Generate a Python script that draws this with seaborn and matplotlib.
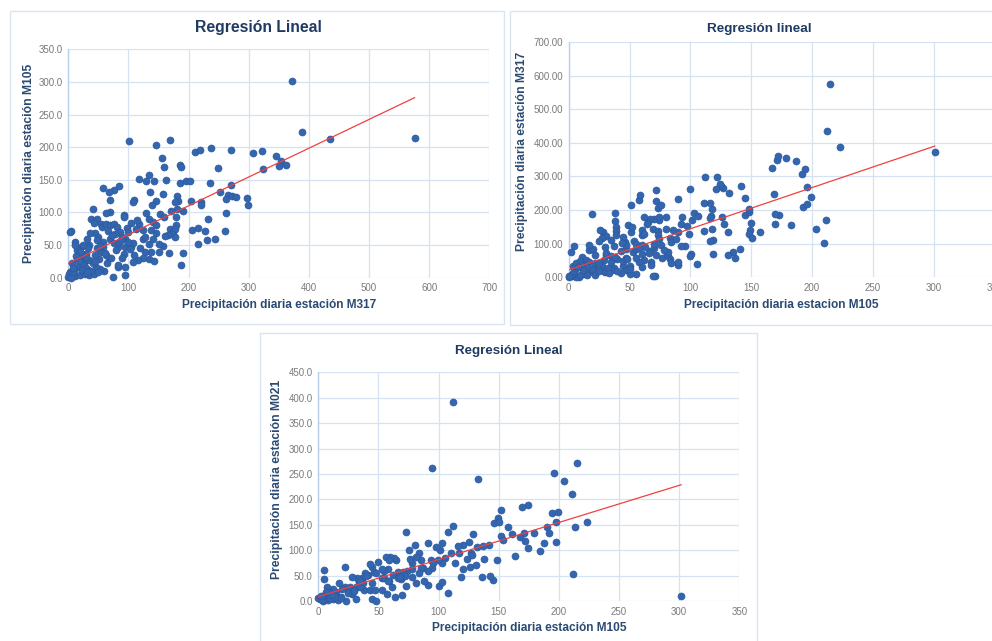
import matplotlib
matplotlib.use("Agg")
import matplotlib.pyplot as plt
import seaborn as sns
import numpy as np
import pandas as pd
from matplotlib.patches import Rectangle

# ---------------- data ----------------
# daily precipitation pairs (M317, M105)
m317 = [372, 389, 435, 576, 101, 169, 145, 156, 210, 219, 238, 270, 307, 322, 345, 354, 350, 362, 324, 249,
        159, 185, 187, 163, 142, 135, 130, 118, 186, 195, 202, 236, 271, 252, 266, 273, 279, 263, 297, 298,
        262, 260, 228, 206, 216, 233, 231, 244, 216, 204.5, 220, 221, 191, 180, 183, 177, 181, 179, 171, 158,
        145, 138.5, 136, 130, 135, 141, 145, 153, 159, 145, 138, 125, 118, 113, 169, 174, 179, 178, 173, 178,
        165, 160, 157, 167, 190, 188, 151, 137, 134, 127, 134, 142, 124, 116, 108, 105, 107, 105, 97, 92,
        93, 84, 76, 67.5, 69, 57, 70, 62, 41, 37.7, 47, 54, 43, 45, 56, 63, 70, 76, 81.5, 86,
        77, 69, 76, 83, 79, 92, 95, 95, 89, 82, 83, 95, 94, 74, 67.6, 71, 65, 60, 52.6, 46,
        51, 57.6, 50, 47, 35, 31.6, 33, 28.8, 21.6, 14, 10.5, 11, 5, 3, 15, 20, 26, 16, 9.4, 2,
        0.5, 4, 11, 19, 27, 35, 42, 49, 33, 24, 35, 41.6, 5.5, 8.3, 0, 4, 22.7, 29, 36, 110,
        108, 20, 30, 38, 55, 62, 45, 25, 18, 48, 58, 66, 85, 90, 100, 110, 120, 125, 140, 150,
        12, 7, 23, 31, 44, 53, 61, 72, 88, 99, 103, 114, 128]
m105 = [301, 223, 212.5, 214.6, 210, 211.5, 203, 183, 193, 196, 199, 196, 191.6, 194, 187, 179, 171, 172, 167, 168.6,
        169.6, 173, 169.6, 150, 148.7, 157, 148, 151, 144.6, 148, 148, 145, 142, 132, 127, 125, 124, 121, 122, 112,
        99.6, 71.5, 72, 73.6, 76, 90, 57.7, 58.8, 51.6, 117.5, 116, 111, 102.7, 125.7, 117, 116, 106, 93.5, 101.7, 127.7,
        118, 111, 131, 98.6, 90, 86, 80, 97.6, 92.5, 69, 73, 73, 83, 74, 74, 70, 80, 74, 67, 62,
        65, 64, 48.5, 38, 38, 19.4, 39, 39, 51, 39, 28, 25.5, 30.7, 27.6, 24.5, 46.5, 53.6, 84, 76, 96,
        92.5, 141, 135, 131, 119, 137, 100.6, 99.6, 105.8, 90, 90, 83, 84, 68, 77, 82, 81, 82, 78, 70.5,
        67, 60, 52.6, 47.5, 43, 37, 47.5, 60, 63, 17, 20, 17, 4, 1.5, 30.6, 30.6, 22, 10.7, 14, 17,
        29, 47.5, 62, 58, 50.6, 60, 45, 37, 47.5, 43, 55, 50, 71, 69.5, 29.6, 29, 22, 17, 11.8, 8.7,
        5.6, 2.5, 2.5, 4, 5.6, 3.6, 5.6, 9, 11.8, 19, 27, 22, 22, 9, 0.5, 0.2, 36, 32, 68, 119,
        116.5, 40, 15, 10, 40, 35, 35, 50, 25, 45, 55, 72, 55, 30, 55, 35, 45, 60, 60, 52,
        33, 15, 12, 8, 25, 48, 38, 66, 58, 70, 44, 88, 62]

# daily precipitation pairs (M105, M021)
m105_b = [112, 94.8, 132.5, 215, 196, 204, 211, 301.8, 212, 223, 213, 194.5, 199.5, 197.6, 190, 191.8, 197.6, 187.6, 184, 179.6,
          174, 169, 170.7, 168, 172, 174.6, 163.5, 160.7, 158, 152, 149, 146, 150, 152, 153.5, 148.8, 145, 143, 136, 141.6,
          137.7, 136.6, 131.6, 128.9, 125, 127, 128, 126, 131, 124, 120.5, 119, 120, 116, 117, 112, 107.5, 113.6, 110.5, 105,
          103, 101, 98, 102.5, 99.5, 94, 91, 94.8, 91.4, 91, 100, 103, 107.8, 88, 85, 86.7, 83.7, 80.6, 81, 78,
          75, 72.6, 76, 74, 77.6, 81.5, 73, 69.6, 68.7, 66.5, 65, 63, 60, 56.5, 58.5, 57.6, 55, 52.6, 50, 45,
          42.7, 46, 41.6, 38.8, 36.6, 37.4, 33.8, 31.9, 27.7, 31.3, 38.2, 43, 47, 44.3, 47.7, 53, 57, 61, 64, 59,
          52.6, 22, 17.5, 22.4, 25.8, 27.7, 31, 23.3, 18.8, 15, 12.5, 8.3, 7, 5, 5, 9.7, 6, 2.8, 1.4, 0,
          12.5, 16.6, 8.3, 4, 20, 13.9, 26.6, 29.4, 34.6, 40, 48, 55, 62, 70, 35, 45, 10, 3, 14, 25,
          85, 95, 66, 72, 30, 19, 11, 6, 2, 58, 68, 78, 84]
m021 = [391.6, 261, 241, 271, 252, 235.5, 210.6, 9.8, 53, 155.5, 145, 173, 176, 155.5, 146, 133, 117, 113.5, 98, 133,
        188, 185.6, 133, 125, 118.7, 103.6, 88.5, 132, 146, 180, 162.7, 154, 155, 128, 120, 80.7, 41, 49, 46.6, 111,
        83, 108, 105.6, 132, 116, 95, 90, 67.6, 71, 82, 62, 48, 111, 108, 94, 148, 136, 74, 94, 84,
        113.5, 100, 105.6, 74, 80.7, 80.7, 113.5, 64, 60, 30.8, 29.5, 37, 15, 40, 80.7, 64, 95, 109.5, 87, 74,
        100, 136, 82, 60, 46.6, 35, 30, 11.8, 42.6, 57.7, 80.7, 85, 87, 87, 80.7, 63.6, 60, 62, 77, 67.6,
        72.8, 58, 51, 54.4, 44.6, 34.8, 37.4, 44.6, 48, 27, 21.6, 21.6, 21.6, 4.6, 0.7, 21.6, 13.8, 28, 8.5, 40,
        44.6, 66, 36, 27, 19, 13.8, 3.3, 0.7, 8.5, 17.7, 24, 24, 27, 42.6, 61, 15, 11, 8.5, 3.3, 5,
        3.3, 2, 2, 0.7, 23, 11.8, 28, 21.6, 28, 50, 55, 45, 52, 58, 40, 35, 6, 1, 8, 15,
        65, 75, 45, 50, 20, 5, 12, 18, 10, 40, 48, 62, 55]

# Excel trend lines (intercept, slope)
trend1 = (22.0, 0.441)   # M105 vs M317
trend2 = (21.8, 1.225)   # M317 vs M105
trend3 = (8.5, 0.730)    # M021 vs M105

titles = ["Regresión Lineal", "Regresión lineal", "Regresión Lineal"]
xlabels = ["Precipitación diaria estación M317", "Precipitación diaria estacion M105",
           "Precipitación diaria estación M105"]
ylabels = ["Precipitación diaria estación M105", "Precipitación diaria estación M317",
           "Precipitación diaria estación M021"]

# ---------------- style ----------------
sns.set_theme(style="white")
plt.rcParams["font.family"] = ["Liberation Sans", "DejaVu Sans"]

W, H = 992, 641
fig = plt.figure(figsize=(W / 100, H / 100), dpi=100)
fig.patch.set_facecolor("white")

TITLE_C = "#1F3A63"
LABEL_C = "#2B4A72"
TICK_C = "#7A7A7A"
GRID_C = "#D5E2F2"
AXIS_C = "#B9CFEC"
FRAME_C = "#D9E4F1"
PT_C = "#3366AF"
PT_EC = "#2A5699"
LINE_C = "#F04040"


def frame(l, t, r, b):
    fig.add_artist(Rectangle((l / W, 1 - b / H), (r - l) / W, (b - t) / H,
                             transform=fig.transFigure, fill=False, ec=FRAME_C, lw=1.0))


def ax_at(l, t, r, b):
    return fig.add_axes([l / W, 1 - b / H, (r - l) / W, (b - t) / H])


def panel(ax, x, y, trend, xmax, xstep, ymax, ystep, yfmt):
    df = pd.DataFrame({"x": x, "y": y})
    sns.scatterplot(data=df, x="x", y="y", ax=ax, s=26, color=PT_C, edgecolor=PT_EC,
                    linewidth=0.4, zorder=3, clip_on=False)
    xs = np.array([min(x), max(x)])
    ld = pd.DataFrame({"x": xs, "y": trend[0] + trend[1] * xs})
    sns.lineplot(data=ld, x="x", y="y", ax=ax, color=LINE_C, lw=0.9, zorder=4)
    ax.set_xlim(0, xmax)
    ax.set_ylim(0, ymax)
    ax.set_xticks(np.arange(0, xmax + 1, xstep))
    ax.set_yticks(np.arange(0, ymax + 1, ystep))
    ax.set_yticklabels([yfmt.format(v) for v in np.arange(0, ymax + 1, ystep)])
    ax.set_xlabel("")
    ax.set_ylabel("")
    ax.grid(True, color=GRID_C, lw=0.9)
    ax.set_axisbelow(True)
    for s in ax.spines.values():
        s.set_visible(False)
    ax.spines["left"].set_visible(True)
    ax.spines["left"].set_color(AXIS_C)
    ax.spines["left"].set_linewidth(1.0)
    ax.tick_params(axis="both", length=0, labelsize=7, colors=TICK_C, pad=4)


# panel 1
frame(10, 11, 504, 324)
ax1 = ax_at(68.3, 49.3, 489.3, 277.7)
panel(ax1, m317, m105, trend1, 700, 100, 350, 50, "{:.1f}")
fig.text(258.5 / W, 1 - 27.7 / H, titles[0], ha="center", va="center", fontsize=11.3,
         fontweight="bold", color=TITLE_C)
fig.text(279 / W, 1 - 305 / H, xlabels[0], ha="center", va="center", fontsize=8.6,
         fontweight="bold", color=LABEL_C)
fig.text(29.3 / W, 1 - 163.7 / H, ylabels[0], ha="center", va="center", fontsize=8.7,
         fontweight="bold", color=LABEL_C, rotation=90)

# panel 2
frame(510, 11, 1000, 325)
ax2 = ax_at(568.7, 42, 994.5, 277.3)
panel(ax2, m105, m317, trend2, 350, 50, 700, 100, "{:.2f}")
fig.text(759 / W, 1 - 28.7 / H, titles[1], ha="center", va="center", fontsize=9.7,
         fontweight="bold", color=TITLE_C)
fig.text(781 / W, 1 - 304.7 / H, xlabels[1], ha="center", va="center", fontsize=8.6,
         fontweight="bold", color=LABEL_C)
fig.text(521.7 / W, 1 - 151.7 / H, ylabels[1], ha="center", va="center", fontsize=8.7,
         fontweight="bold", color=LABEL_C, rotation=90)

# panel 3
frame(260, 333, 757, 660)
ax3 = ax_at(318.3, 372.3, 739.3, 601)
panel(ax3, m105_b, m021, trend3, 350, 50, 450, 50, "{:.1f}")
fig.text(508.5 / W, 1 - 350.7 / H, titles[2], ha="center", va="center", fontsize=9.6,
         fontweight="bold", color=TITLE_C)
fig.text(529 / W, 1 - 627.7 / H, xlabels[2], ha="center", va="center", fontsize=8.6,
         fontweight="bold", color=LABEL_C)
fig.text(276.7 / W, 1 - 479.5 / H, ylabels[2], ha="center", va="center", fontsize=8.7,
         fontweight="bold", color=LABEL_C, rotation=90)

fig.savefig("out.png", dpi=100)
